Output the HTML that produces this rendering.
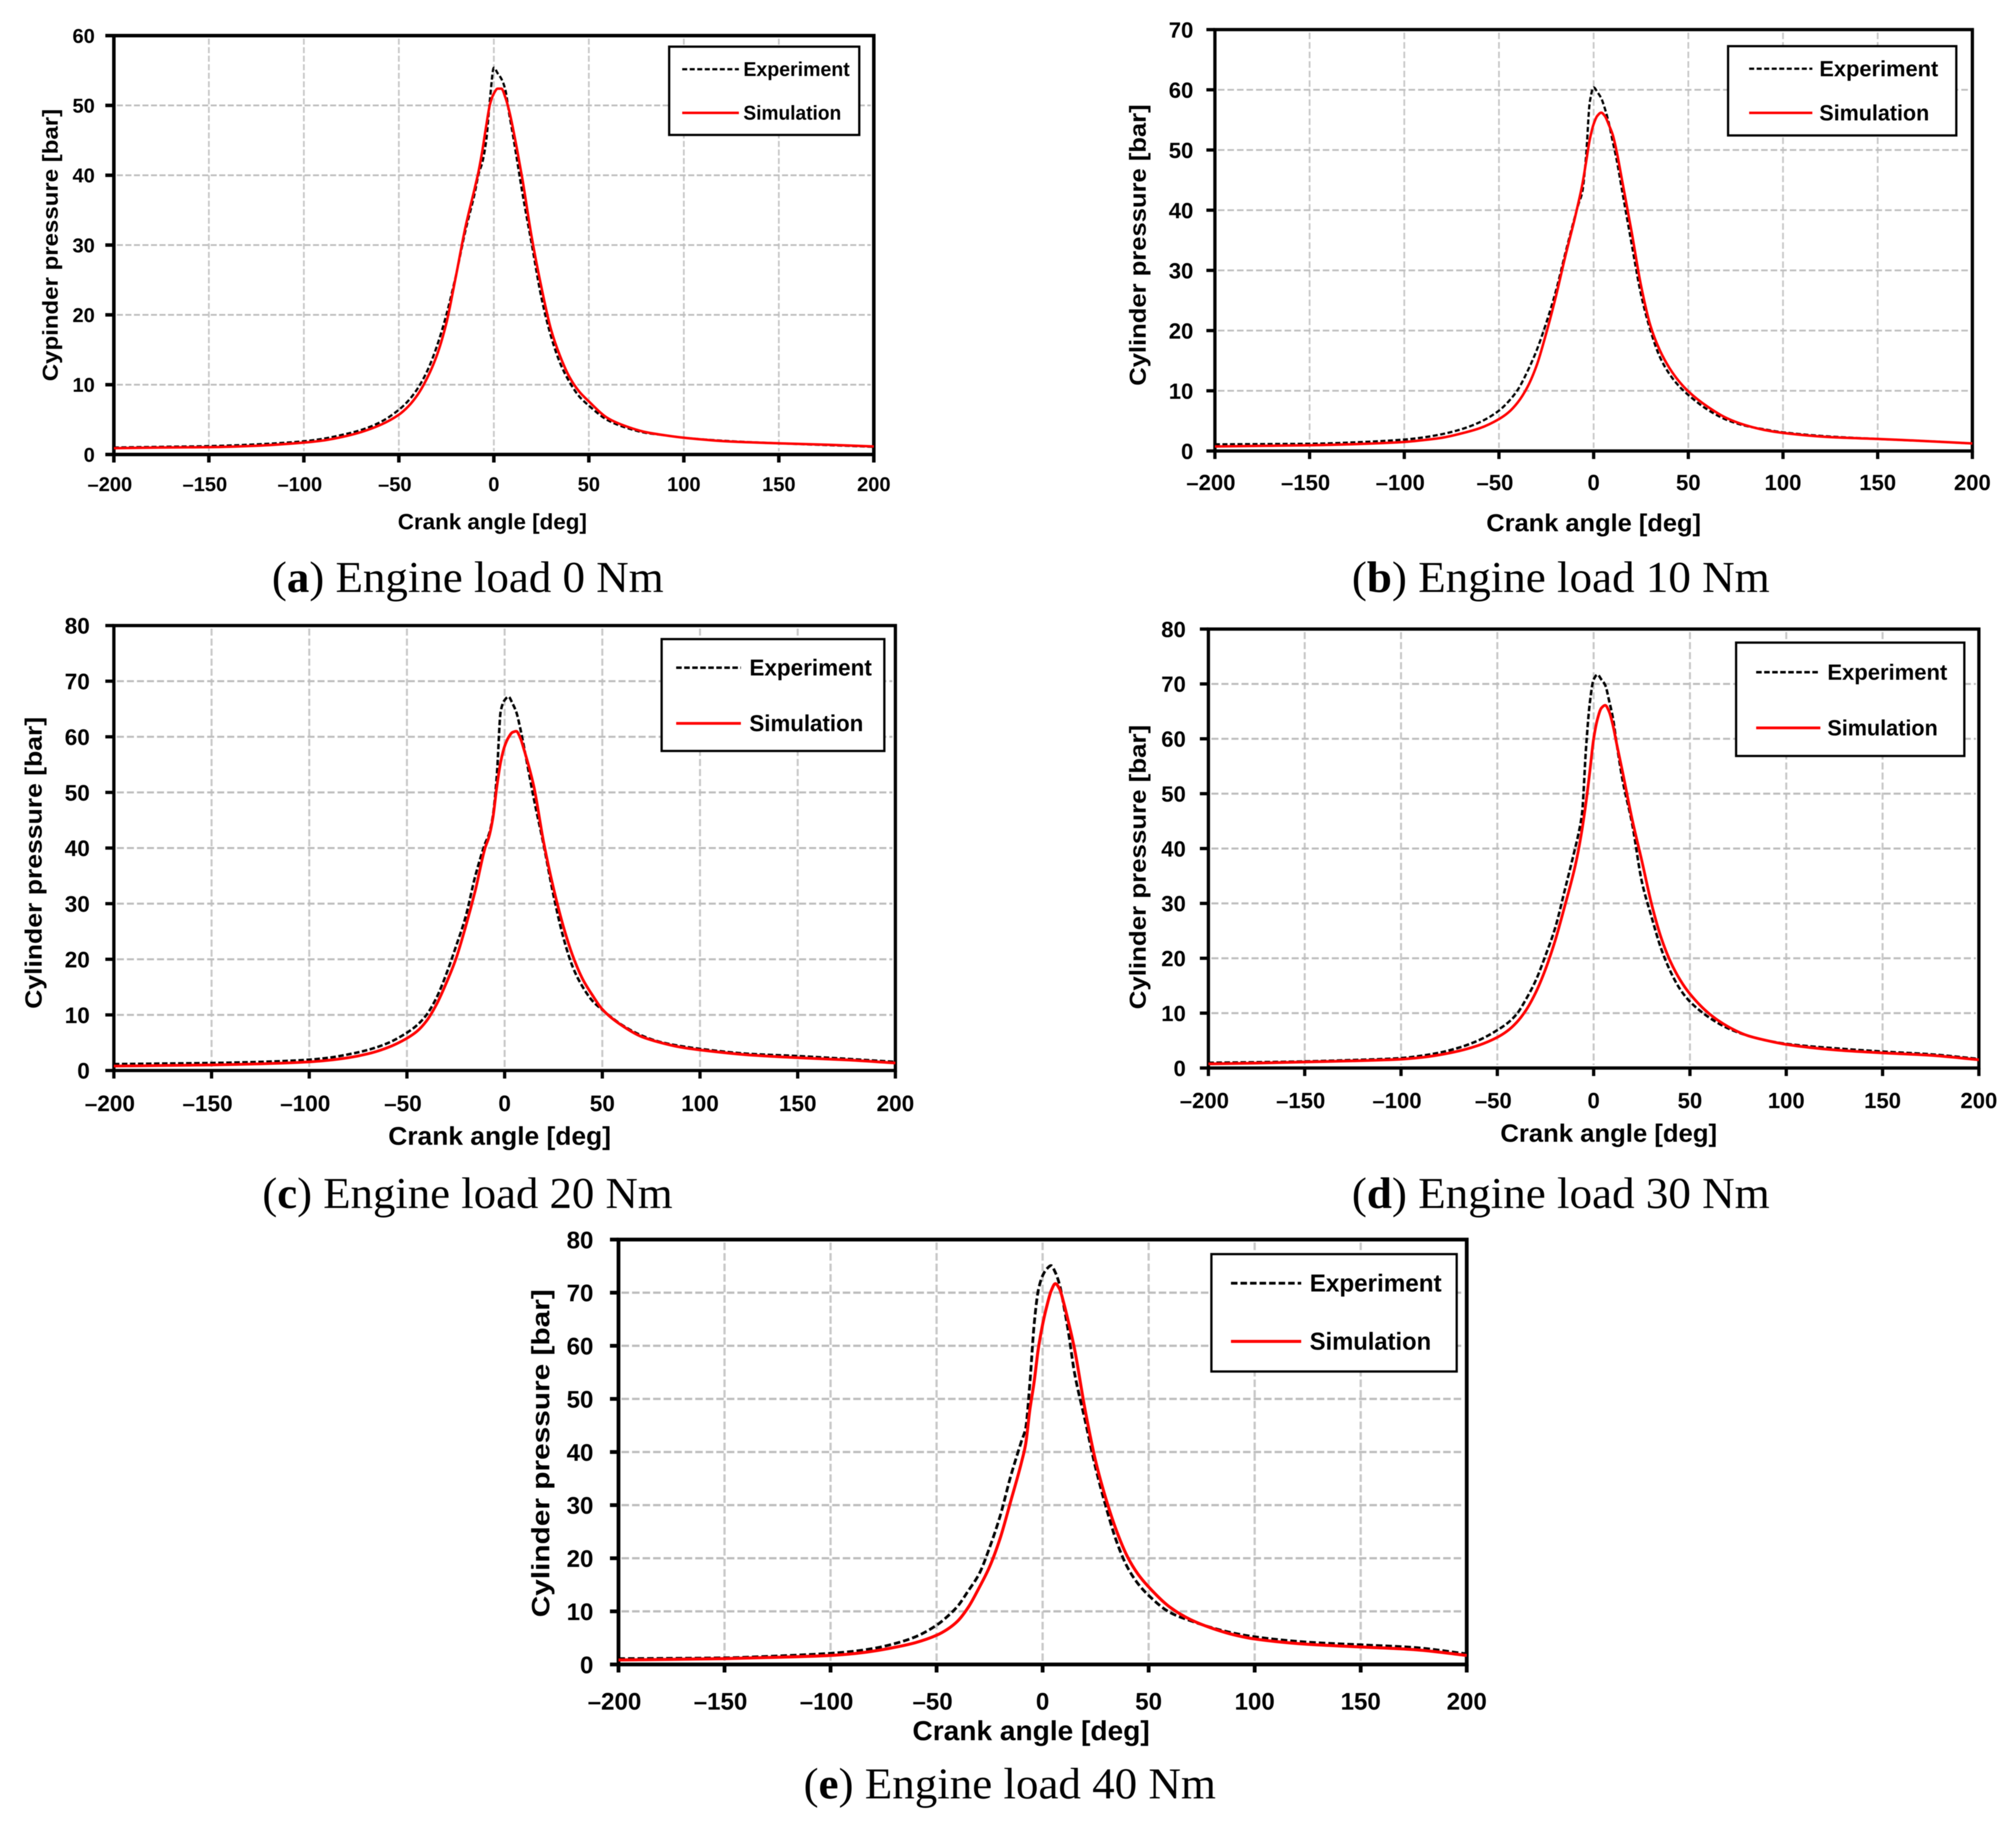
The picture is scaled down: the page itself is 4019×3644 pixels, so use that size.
<!DOCTYPE html>
<html lang="en">
<head>
<meta charset="utf-8">
<title>Cylinder pressure versus crank angle at five engine loads</title>
<style>
  html, body { margin: 0; padding: 0; background: #ffffff; }
  svg { display: block; filter: blur(0.7px); }
  text { font-family: "Liberation Sans", Arial, sans-serif; font-weight: bold; fill: #000000; text-rendering: geometricPrecision; }
  text.caption { font-family: "Liberation Serif", "Times New Roman", serif; font-weight: normal; }
  text.caption tspan { font-weight: bold; }
</style>
</head>
<body>
<svg id="figure" xmlns="http://www.w3.org/2000/svg" width="4019" height="3644" viewBox="0 0 4019 3644"></svg>
<script>
// ---- Shared chart data ----
const crankAngles = [-200,-175,-150,-125,-100,-90,-80,-70,-60,-50,-45,-40,-35,-30,-25,-20,-15,-10,-8,-6,-4,-2,0,2,4,6,8,10,12,15,20,25,30,35,40,45,50,60,70,80,90,100,125,150,175,200];
const xTickValues = [-200,-150,-100,-50,0,50,100,150,200];
const xTickLabels = ['–200','–150','–100','–50','0','50','100','150','200'];

// ---- Panel (a) 0 Nm ----
const yTicksA = [0,10,20,30,40,50,60];
const experimentA = [1.0,1.1,1.2,1.45,1.9,2.25,2.8,3.5,4.6,6.4,7.7,9.5,12,15.5,20,25.6,32,37.5,40.2,41.9,45,51,55.4,54.6,53.8,52.3,48.9,45.8,42.5,37.5,30,22.5,17,13,10.3,8.3,7,4.9,3.8,3.1,2.75,2.4,1.9,1.6,1.35,1.1];
const simulationA = [0.9,1.0,1.05,1.25,1.7,2.0,2.5,3.2,4.2,5.7,6.9,8.6,11,14.2,18.8,25.5,32.5,38.2,40.6,43.6,47.1,50.2,51.7,52.4,52.4,51.2,49.3,46.8,44,39.5,31,24,18,14,11,9,7.6,5.2,4.0,3.2,2.75,2.4,1.85,1.6,1.4,1.15];

// ---- Panel (b) 10 Nm ----
const yTicksB = [0,10,20,30,40,50,60,70];
const experimentB = [1.1,1.15,1.2,1.45,1.9,2.25,2.8,3.6,4.8,6.7,8.2,10.2,13.2,16.8,21.3,26.5,32.8,38.8,41,43,49,58,60.4,59.6,58.6,56.8,54.5,51.5,48.6,43.3,34.5,26,20,15.6,12.8,10.8,9.3,6.9,5.2,4.2,3.6,3.1,2.4,2.0,1.65,1.25];
const simulationB = [0.75,0.85,0.95,1.15,1.5,1.8,2.2,2.9,3.8,5.3,6.4,8.1,10.6,14.3,19.6,25.6,32.3,38.6,41.3,44.2,48,51.8,54.3,55.7,56.2,55.6,54.2,52.6,50,45,36.5,27.5,20.8,16.7,13.8,11.6,9.9,7.4,5.5,4.3,3.5,3.0,2.3,2.0,1.65,1.25];

// ---- Panel (c) 20 Nm ----
const yTicksC = [0,10,20,30,40,50,60,70,80];
const experimentC = [1.15,1.25,1.35,1.55,1.95,2.3,2.9,3.7,4.9,6.8,8.1,10,13,17.2,22.2,27.6,35,40.8,42.5,45.8,53,64.6,66.6,67.2,66,64.4,61.5,58,54.3,48.8,40.5,31.5,24,18.5,15,12.5,10.9,8.2,6.3,5.1,4.4,3.9,3.0,2.6,2.1,1.55];
const simulationC = [0.8,0.9,1.0,1.2,1.55,1.85,2.3,3.0,4.1,5.8,7.0,8.9,11.8,15.6,20,25.8,32.4,40,42,45.4,51,55.5,58.3,59.9,60.8,61,59.8,57.6,55.2,51,41,32.8,26,20.5,16.4,13.5,11,8.1,6.1,5.0,4.2,3.7,2.8,2.3,1.9,1.35];

// ---- Panel (d) 30 Nm ----
const yTicksD = [0,10,20,30,40,50,60,70,80];
const experimentD = [0.95,1.05,1.2,1.45,1.8,2.2,2.8,3.7,5,6.9,8.1,9.8,12.6,16,20.5,25.5,32.4,39.5,42.5,46.5,58,66.5,70.8,71.7,70.8,69.8,67,63.8,59,52.5,44.5,34,27.6,21.8,17.5,14.3,12.1,9.2,7.2,5.9,5,4.4,3.6,3.0,2.5,1.65];
const simulationD = [0.75,0.9,1.1,1.3,1.6,1.9,2.4,3.1,4.1,5.6,6.7,8.3,10.6,13.8,18,23.2,29.5,36.2,39.5,43.5,48.3,54,60,63.6,65.6,66.1,65,62.5,59,54,45.3,37.8,30,23.8,19.3,16,13.5,9.9,7.5,5.9,5,4.3,3.3,2.75,2.3,1.5];

// ---- Panel (e) 40 Nm ----
const yTicksE = [0,10,20,30,40,50,60,70,80];
const experimentE = [1.1,1.15,1.25,1.6,2.1,2.45,3,3.9,5.2,7.4,9,11,13.9,17,22,28,35.5,42,44.5,53,64,70.5,73.2,74.5,75.1,73.8,71.5,67.5,63,55,46,37,29.5,23,18.3,15.2,13,9.8,8.2,6.9,5.9,5.2,4.2,3.7,3.2,2.0];
const simulationE = [0.85,0.95,1.1,1.35,1.7,2.0,2.5,3.2,4.1,5.5,6.6,8.2,10.8,14.4,18.4,23.8,30.8,38,41.5,48,53.2,59.5,64,67.5,70.3,71.7,70.7,68,64.8,59.5,48,38.3,31,25,20.3,17,14.6,10.8,8.4,6.8,5.6,4.8,3.8,3.3,2.8,1.7];

// ---- Panel layout (pixels, styling and titles only) ----
const panels = [
  { id:'a', letter:'a', load:' Engine load 0 Nm', yTicks:yTicksA, experiment:experimentA, simulation:simulationA,
    left:227, right:1742, top:71, bottom:906, tickFont:40, xLabelY:979, yLabelGap:38,
    yTitle:'Cypinder pressure [bar]', yTitleX:115, yTitleStart:760, yTitleLen:543, yTitleFont:43,
    xTitleX:793, xTitleY:1055, xTitleLen:377, xTitleFont:44,
    capX:542, capY:1180, capLen:781,
    legend:{x:1334,y:93,w:379,h:176,lx1:1360,lx2:1473,ly1:138,ly2:225,tx:1482,expLen:212,simLen:195,font:40},
    grid:3.5, dash:'12 5', axis:7, lineW:4.5, expDash:'10 5' },
  { id:'b', letter:'b', load:' Engine load 10 Nm', yTicks:yTicksB, experiment:experimentB, simulation:simulationB,
    left:2422, right:3932, top:59, bottom:899, tickFont:44, xLabelY:977, yLabelGap:43,
    yTitle:'Cylinder pressure [bar]', yTitleX:2284, yTitleStart:769, yTitleLen:561, yTitleFont:46,
    xTitleX:2963, xTitleY:1059, xTitleLen:428, xTitleFont:49,
    capX:2695, capY:1180, capLen:833,
    legend:{x:3445,y:92,w:455,h:178,lx1:3487,lx2:3613,ly1:137,ly2:225,tx:3627,expLen:237,simLen:219,font:44},
    grid:3.5, dash:'13 6', axis:6.5, lineW:4.5, expDash:'10 5' },
  { id:'c', letter:'c', load:' Engine load 20 Nm', yTicks:yTicksC, experiment:experimentC, simulation:simulationC,
    left:227, right:1785, top:1247, bottom:2134, tickFont:45, xLabelY:2215, yLabelGap:48,
    yTitle:'Cylinder pressure [bar]', yTitleX:83, yTitleStart:2011, yTitleLen:582, yTitleFont:47,
    xTitleX:774, xTitleY:2282, xTitleLen:444, xTitleFont:51,
    capX:523, capY:2408, capLen:818,
    legend:{x:1319,y:1274,w:444,h:223,lx1:1348,lx2:1477,ly1:1331,ly2:1442,tx:1494,expLen:244,simLen:227,font:46},
    grid:4, dash:'14 6', axis:6.5, lineW:5, expDash:'11 5' },
  { id:'d', letter:'d', load:' Engine load 30 Nm', yTicks:yTicksD, experiment:experimentD, simulation:simulationD,
    left:2409, right:3945, top:1254, bottom:2129, tickFont:44, xLabelY:2209, yLabelGap:45,
    yTitle:'Cylinder pressure [bar]', yTitleX:2284, yTitleStart:2012, yTitleLen:567, yTitleFont:46,
    xTitleX:2991, xTitleY:2276, xTitleLen:432, xTitleFont:50,
    capX:2695, capY:2408, capLen:833,
    legend:{x:3461,y:1281,w:455,h:226,lx1:3501,lx2:3629,ly1:1340,ly2:1451,tx:3643,expLen:239,simLen:220,font:44},
    grid:4, dash:'14 6', axis:6.5, lineW:5, expDash:'11 5' },
  { id:'e', letter:'e', load:' Engine load 40 Nm', yTicks:yTicksE, experiment:experimentE, simulation:simulationE,
    left:1233, right:2924, top:2471, bottom:3318, tickFont:48, xLabelY:3408, yLabelGap:50,
    yTitle:'Cylinder pressure [bar]', yTitleX:1095, yTitleStart:3224, yTitleLen:654, yTitleFont:50,
    xTitleX:1819, xTitleY:3469, xTitleLen:473, xTitleFont:55,
    capX:1602, capY:3585, capLen:822,
    legend:{x:2415,y:2500,w:489,h:234,lx1:2454,lx2:2594,ly1:2558,ly2:2674,tx:2611,expLen:263,simLen:242,font:49},
    grid:4.5, dash:'15 6', axis:7.5, lineW:5.5, expDash:'13 6' }
];

const svgNS = 'http://www.w3.org/2000/svg';
const figure = document.getElementById('figure');

function add(parent, tag, attrs, text) {
  const node = document.createElementNS(svgNS, tag);
  for (const key in attrs) node.setAttribute(key, attrs[key]);
  if (text !== undefined) node.textContent = text;
  parent.appendChild(node);
  return node;
}

function xScale(p, angle) { return p.left + (angle + 200) / 400 * (p.right - p.left); }
function yScale(p, pressure) {
  const maxY = p.yTicks[p.yTicks.length - 1];
  return p.bottom - pressure / maxY * (p.bottom - p.top);
}
// Monotone cubic path through the data samples, so the curves stay smooth.
function seriesPath(p, values) {
  const xs = crankAngles.map(a => xScale(p, a));
  const ys = values.map(v => yScale(p, v));
  const n = xs.length;
  const slopes = [];
  for (let i = 0; i < n - 1; i++) slopes.push((ys[i + 1] - ys[i]) / (xs[i + 1] - xs[i]));
  const tangents = [slopes[0]];
  for (let i = 1; i < n - 1; i++) {
    if (slopes[i - 1] * slopes[i] <= 0) { tangents.push(0); continue; }
    const h0 = xs[i] - xs[i - 1], h1 = xs[i + 1] - xs[i];
    const w0 = 2 * h1 + h0, w1 = h1 + 2 * h0;
    tangents.push((w0 + w1) / (w0 / slopes[i - 1] + w1 / slopes[i]));
  }
  tangents.push(slopes[n - 2]);
  let d = 'M' + xs[0].toFixed(1) + ' ' + ys[0].toFixed(1);
  for (let i = 0; i < n - 1; i++) {
    const h = (xs[i + 1] - xs[i]) / 3;
    d += 'C' + (xs[i] + h).toFixed(1) + ' ' + (ys[i] + tangents[i] * h).toFixed(1) + ' ' +
         (xs[i + 1] - h).toFixed(1) + ' ' + (ys[i + 1] - tangents[i + 1] * h).toFixed(1) + ' ' +
         xs[i + 1].toFixed(1) + ' ' + ys[i + 1].toFixed(1);
  }
  return d;
}

panels.forEach(function (p) {
  const g = add(figure, 'g', {});
  
  

  // Grid
  const gridG = add(g, 'g', { stroke: '#bdbdbd', 'stroke-width': p.grid, 'stroke-dasharray': p.dash, fill: 'none' });
  
  
  xTickValues.slice(1, -1).forEach(function (v) {
    const gl = add(gridG, 'line', { x1: xScale(p, v), x2: xScale(p, v), y1: p.top + 6, y2: p.bottom - 6, stroke: '#c8c8c8' });
    
    
  });
  p.yTicks.slice(1, -1).forEach(function (v) {
    const gl = add(gridG, 'line', { x1: p.left + 6, x2: p.right - 6, y1: yScale(p, v), y2: yScale(p, v) });
    
    
  });

  // Plot frame
  const frame = add(g, 'rect', { x: p.left, y: p.top, width: p.right - p.left, height: p.bottom - p.top, fill: 'none', stroke: '#000', 'stroke-width': p.axis });
  
  

  // X ticks and labels
  xTickValues.forEach(function (v, i) {
    const t = add(g, 'line', { x1: xScale(p, v), x2: xScale(p, v), y1: p.bottom, y2: p.bottom + 16, stroke: '#000', 'stroke-width': p.axis });
    
    
    const lab = add(g, 'text', { x: xScale(p, v) - (v < 0 ? 8 : 0), y: p.xLabelY, 'font-size': p.tickFont, 'text-anchor': 'middle' }, xTickLabels[i]);
    
    
  });

  // Y ticks and labels
  p.yTicks.forEach(function (v) {
    const t = add(g, 'line', { x1: p.left - 17, x2: p.left, y1: yScale(p, v), y2: yScale(p, v), stroke: '#000', 'stroke-width': p.axis });
    
    
    const lab = add(g, 'text', { x: p.left - p.yLabelGap, y: yScale(p, v) + p.tickFont * 0.36, 'font-size': p.tickFont, 'text-anchor': 'end' }, String(v));
    
    
  });

  // Series
  const expLine = add(g, 'path', { d: seriesPath(p, p.experiment), fill: 'none', stroke: '#000', 'stroke-width': p.lineW, 'stroke-dasharray': p.expDash, 'stroke-linejoin': 'round' });
  
  
  const simLine = add(g, 'path', { d: seriesPath(p, p.simulation), fill: 'none', stroke: '#ff0000', 'stroke-width': p.lineW + 0.5, 'stroke-linejoin': 'round' });
  
  

  // Axis titles
  const yTitle = add(g, 'text', { x: p.yTitleX, y: p.yTitleStart, transform: 'rotate(-90 ' + p.yTitleX + ' ' + p.yTitleStart + ')', 'font-size': p.yTitleFont, textLength: p.yTitleLen, lengthAdjust: 'spacingAndGlyphs' }, p.yTitle);
  
  
  const xTitle = add(g, 'text', { x: p.xTitleX, y: p.xTitleY, 'font-size': p.xTitleFont, textLength: p.xTitleLen, lengthAdjust: 'spacingAndGlyphs' }, 'Crank angle [deg]');
  
  

  // Legend
  const L = p.legend;
  const lg = add(g, 'g', {});
  
  
  const box = add(lg, 'rect', { x: L.x, y: L.y, width: L.w, height: L.h, fill: '#fff', stroke: '#000', 'stroke-width': 4.5 });
  
  
  const ke = add(lg, 'line', { x1: L.lx1, x2: L.lx2, y1: L.ly1, y2: L.ly1, stroke: '#000', 'stroke-width': p.lineW, 'stroke-dasharray': p.expDash });
  
  
  const te = add(lg, 'text', { x: L.tx, y: L.ly1 + L.font * 0.34, 'font-size': L.font, textLength: L.expLen, lengthAdjust: 'spacingAndGlyphs' }, 'Experiment');
  
  
  const ks = add(lg, 'line', { x1: L.lx1, x2: L.lx2, y1: L.ly2, y2: L.ly2, stroke: '#ff0000', 'stroke-width': p.lineW + 0.5 });
  
  
  const ts = add(lg, 'text', { x: L.tx, y: L.ly2 + L.font * 0.34, 'font-size': L.font, textLength: L.simLen, lengthAdjust: 'spacingAndGlyphs' }, 'Simulation');
  
  

  // Caption
  const cap = add(g, 'text', { class: 'caption', x: p.capX, y: p.capY, 'font-size': 88, textLength: p.capLen, lengthAdjust: 'spacingAndGlyphs' });
  
  
  cap.appendChild(document.createTextNode('('));
  add(cap, 'tspan', {}, p.letter);
  cap.appendChild(document.createTextNode(')' + p.load));
});
</script>
</body>
</html>
